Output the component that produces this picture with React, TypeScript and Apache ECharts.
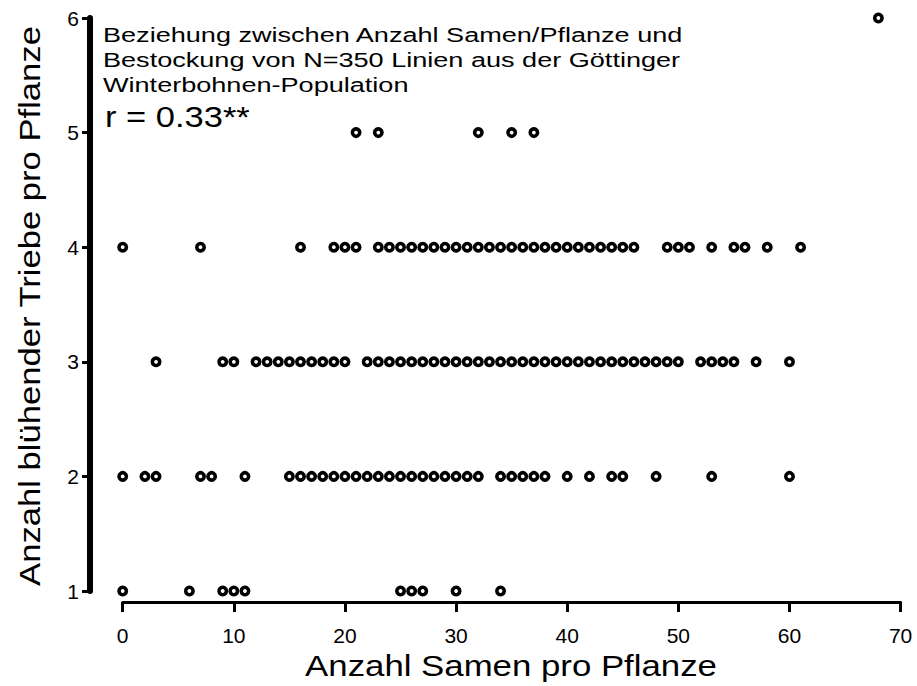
import React, { useEffect, useRef } from "react";
import * as echarts from "echarts";

// x values (Anzahl Samen pro Pflanze) for each y level (Anzahl blühender Triebe)
const yLevels = [1, 2, 3, 4, 5, 6];
const xAtY1 = [0, 6, 9, 10, 11, 25, 26, 27, 30, 34];
const xAtY2 = [0, 2, 3, 7, 8, 11, 15, 16, 17, 18, 19, 20, 21, 22, 23, 24, 25, 26, 27, 28, 29, 30, 31, 32, 34, 35, 36, 37, 38, 40, 42, 44, 45, 48, 53, 60];
const xAtY3 = [3, 9, 10, 12, 13, 14, 15, 16, 17, 18, 19, 20, 22, 23, 24, 25, 26, 27, 28, 29, 30, 31, 32, 33, 34, 35, 36, 37, 38, 39, 40, 41, 42, 43, 44, 45, 46, 47, 48, 49, 50, 52, 53, 54, 55, 57, 60];
const xAtY4 = [0, 7, 16, 19, 20, 21, 23, 24, 25, 26, 27, 28, 29, 30, 31, 32, 33, 34, 35, 36, 37, 38, 39, 40, 41, 42, 43, 44, 45, 46, 49, 50, 51, 53, 55, 56, 58, 61];
const xAtY5 = [21, 23, 32, 35, 37];
const xAtY6 = [68];
const xTicks = [0, 10, 20, 30, 40, 50, 60, 70];
const yTicks = [1, 2, 3, 4, 5, 6];

const titleLines = [
  "Beziehung zwischen Anzahl Samen/Pflanze und",
  "Bestockung von N=350 Linien aus der Göttinger",
  "Winterbohnen-Population",
];
const rText = "r = 0.33**";
const xName = "Anzahl Samen pro Pflanze";
const yName = "Anzahl blühender Triebe pro Pflanze";

const FONT = "'Liberation Sans', Arial, Helvetica, sans-serif";

export default function App() {
  const ref = useRef<HTMLDivElement>(null);
  useEffect(() => {
    if (!ref.current) return;
    const chart = echarts.init(ref.current, null, { renderer: "svg" });
    const rows = [xAtY1, xAtY2, xAtY3, xAtY4, xAtY5, xAtY6];
    const data: number[][] = [];
    rows.forEach((xs, i) => xs.forEach((x) => data.push([x, yLevels[i]])));

    chart.setOption({
      animation: false,
      backgroundColor: "#ffffff",
      grid: {
        left: 122.7,
        right: 16.4,
        top: 18,
        bottom: 95,
        containLabel: false,
        outerBoundsMode: "none",
      },
      xAxis: {
        type: "value",
        min: xTicks[0],
        max: xTicks[xTicks.length - 1],
        interval: 10,
        offset: 11,
        axisLine: { show: true, onZero: false, lineStyle: { color: "#000", width: 3 } },
        axisTick: { show: true, length: 10, lineStyle: { color: "#000", width: 3 } },
        axisLabel: { color: "#000", fontSize: 21, fontFamily: FONT, margin: 23 },
        splitLine: { show: false },
      },
      yAxis: {
        type: "value",
        min: yTicks[0],
        max: yTicks[yTicks.length - 1],
        interval: 1,
        offset: 32.7,
        axisLine: { show: true, onZero: false, lineStyle: { color: "#000", width: 6 } },
        axisTick: { show: true, length: 8, lineStyle: { color: "#000", width: 3 } },
        axisLabel: { color: "#000", fontSize: 21, fontFamily: FONT, margin: 11 },
        splitLine: { show: false },
      },
      graphic: [
        {
          type: "text",
          x: 103,
          y: 22,
          scaleX: 1.29,
          style: {
            text: titleLines.join("\n"),
            font: `21px ${FONT}`,
            lineHeight: 25,
            fill: "#000",
            align: "left",
            verticalAlign: "top",
          },
        },
        {
          type: "text",
          x: 105,
          y: 102,
          scaleX: 1.15,
          style: { text: rText, font: `30px ${FONT}`, fill: "#000", align: "left", verticalAlign: "top" },
        },
        {
          type: "text",
          x: 511,
          y: 666,
          scaleX: 1.16,
          style: {
            text: xName,
            font: `30px ${FONT}`,
            fill: "#000",
            align: "center",
            verticalAlign: "middle",
          },
        },
        {
          type: "text",
          x: 30,
          y: 306,
          rotation: Math.PI / 2,
          scaleX: 1.154,
          style: {
            text: yName,
            font: `30px ${FONT}`,
            fill: "#000",
            align: "center",
            verticalAlign: "middle",
          },
        },
      ],
      series: [
        {
          type: "scatter",
          data,
          symbol: "circle",
          symbolSize: 7.4,
          itemStyle: { color: "#fff", borderColor: "#000", borderWidth: 3.6, opacity: 1 },
          emphasis: { disabled: true },
        },
      ],
    });
    return () => chart.dispose();
  }, []);
  return (
    <div
      ref={ref}
      style={{ position: "absolute", left: 0, top: 0, width: 917, height: 686, background: "#fff" }}
    />
  );
}
